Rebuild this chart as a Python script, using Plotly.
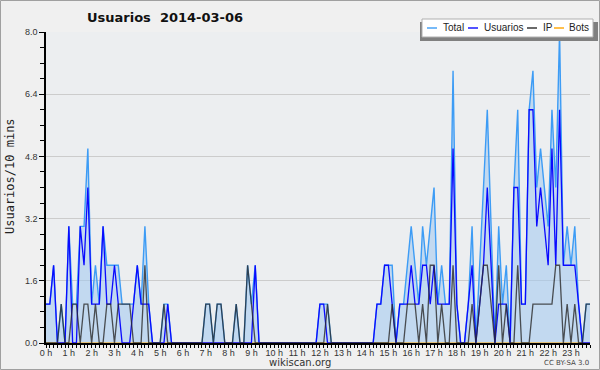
import plotly.graph_objects as go

# ---- data (10-minute slots, 144 per day) ----
hour_labels = [f"{h} h" for h in range(24)]

usuarios = [1,1,2,0,0,0,3,0,0,3,2,4,1,1,1,3,1,1,2,1,0,0,0,1,
            2,1,1,1,0,0,0,0,1,0,0,0,0,0,0,0,0,0,0,0,0,0,0,0,
            0,0,0,0,0,0,0,2,0,0,0,0,0,0,0,0,0,0,0,0,0,0,0,0,
            1,1,0,0,0,0,0,0,0,0,0,0,0,0,0,1,1,2,2,1,0,1,1,1,
            2,1,1,2,2,1,2,1,1,1,1,5,1,0,0,1,2,0,1,2,4,2,0,1,
            1,1,0,4,4,1,1,6,6,3,4,3,2,5,2,6,2,2,2,2,1,0,0,0]

ip = [0,0,0,0,1,0,0,1,1,0,1,1,0,1,0,0,1,1,0,1,1,1,1,0,
      0,0,2,0,0,0,0,1,0,0,0,0,0,0,0,0,0,0,1,1,0,1,1,0,
      0,0,1,0,0,2,1,0,0,0,0,0,0,0,0,0,0,0,0,0,0,0,0,0,
      0,0,1,0,0,0,0,0,0,0,0,0,0,0,0,0,0,0,0,1,0,0,0,1,
      1,1,0,1,0,2,2,0,1,0,0,2,0,0,0,0,1,0,1,2,2,1,0,2,
      0,1,0,0,2,0,0,0,1,1,1,1,1,1,2,2,0,1,0,1,0,0,1,1]

total = [1,1,2,0,1,0,3,1,1,3,3,5,1,2,1,3,2,2,2,2,1,1,1,1,
         2,1,3,1,0,0,0,1,1,0,0,0,0,0,0,0,0,0,1,1,0,1,1,0,
         0,0,1,0,0,2,1,2,0,0,0,0,0,0,0,0,0,0,0,0,0,0,0,0,
         1,1,1,0,0,0,0,0,0,0,0,0,0,0,0,1,1,2,2,2,0,1,1,2,
         3,2,1,3,2,3,4,1,2,1,1,7,1,0,0,1,3,0,2,4,6,3,0,3,
         1,2,0,4,6,1,1,6,7,4,5,4,3,6,4,8,2,3,2,3,1,0,1,1]

bots = [0] * 144

slots = list(range(144))
y_ticks = [0.0, 1.6, 3.2, 4.8, 6.4, 8.0]

# ---- style ----
C_TOTAL = "#3d9cf5"
C_USU = "#0a0aff"
C_IP = "#2a2a2a"
C_BOTS = "#ffa500"
FONT = "DejaVu Sans"
SMALL = "Liberation Sans"

L, R, T, B = 46, 10, 32, 27
W, H = 600, 370
PW, PH = W - L - R, H - T - B


def xp(px):
    return (px - L) / PW


def yp(py):
    return (H - B - py) / PH


fig = go.Figure()
fig.add_trace(go.Scatter(x=slots, y=total, mode="lines", name="Total",
                         line=dict(color=C_TOTAL, width=1.4),
                         fill="tozeroy", fillcolor="rgba(160,200,240,0.55)"))
fig.add_trace(go.Scatter(x=slots, y=bots, mode="lines", name="Bots",
                         line=dict(color=C_BOTS, width=1.2)))
fig.add_trace(go.Scatter(x=slots, y=usuarios, mode="lines", name="Usuarios",
                         line=dict(color=C_USU, width=1.3)))
fig.add_trace(go.Scatter(x=slots, y=ip, mode="lines", name="IP",
                         line=dict(color=C_IP, width=1.3), opacity=0.8))

shapes = [
    # outer frame
    dict(type="rect", xref="paper", yref="paper", x0=xp(0.5), x1=xp(599.5),
         y0=yp(369.5), y1=yp(0.5), line=dict(color="#a0a0a0", width=1),
         layer="below"),
    # legend shadow
    dict(type="rect", xref="paper", yref="paper", x0=xp(420), x1=xp(598),
         y0=yp(41), y1=yp(22), line=dict(width=0), fillcolor="#808080"),
    # legend box
    dict(type="rect", xref="paper", yref="paper", x0=xp(422), x1=xp(593),
         y0=yp(37), y1=yp(19), line=dict(color="#b0b0b0", width=1),
         fillcolor="#ffffff"),
]
annotations = []
legend_items = [("Total", C_TOTAL, 427, 441), ("Usuarios", C_USU, 468, 482),
                ("IP", C_IP, 527, 541), ("Bots", C_BOTS, 554, 567)]
for name, col, lx, tx in legend_items:
    shapes.append(dict(type="line", xref="paper", yref="paper",
                       x0=xp(lx), x1=xp(lx + 10), y0=yp(28), y1=yp(28),
                       line=dict(color=col, width=1.4)))
    annotations.append(dict(text=name, xref="paper", yref="paper",
                            x=xp(tx), y=yp(28), xanchor="left", yanchor="middle",
                            showarrow=False,
                            font=dict(family=SMALL, size=10, color="#222")))

annotations += [
    dict(text="<b>Usuarios&nbsp;&nbsp;2014-03-06</b>", xref="paper", yref="paper",
         x=xp(85), y=yp(17), xanchor="left", yanchor="middle", showarrow=False,
         font=dict(family=FONT, size=13, color="#111")),
    dict(text="Usuarios/10 mins", xref="paper", yref="paper", x=xp(10),
         y=yp(176), xanchor="center", yanchor="middle", textangle=-90,
         showarrow=False, font=dict(family="DejaVu Sans Mono", size=12, color="#222")),
    dict(text="wikiscan.org", xref="paper", yref="paper", x=xp(300), y=yp(362),
         xanchor="center", yanchor="middle", showarrow=False,
         font=dict(family=FONT, size=10, color="#333")),
    dict(text="CC BY-SA 3.0", xref="paper", yref="paper", x=xp(566), y=yp(363),
         xanchor="center", yanchor="middle", showarrow=False,
         font=dict(family=FONT, size=7, color="#444")),
]

fig.update_layout(
    width=W, height=H,
    margin=dict(l=L, r=R, t=T, b=B, autoexpand=False),
    paper_bgcolor="#f0f0f0",
    plot_bgcolor="#eceef0",
    showlegend=False,
    shapes=shapes,
    annotations=annotations,
    font=dict(family=FONT, size=9, color="#333"),
)
fig.update_xaxes(range=[0, 143], tickvals=list(range(0, 144, 6)),
                 ticktext=hour_labels, tickangle=0, automargin=False,
                 ticks="outside", ticklen=3, ticklabelstandoff=-3,
                 tickcolor="#000", showline=True, linecolor="#000",
                 linewidth=1.5, showgrid=False, zeroline=False,
                 tickfont=dict(family=SMALL, size=9, color="#333"),
                 minor=dict(dtick=1, tick0=0, ticks="outside", ticklen=3,
                            tickcolor="#000", showgrid=False))
fig.update_yaxes(range=[0, 8], tickvals=y_ticks, automargin=False,
                 ticktext=[f"{v:.1f}" for v in y_ticks], ticks="outside",
                 ticklen=5, tickcolor="#000", showline=True, linecolor="#000",
                 linewidth=1.5, showgrid=True, gridcolor="#cccccc",
                 gridwidth=1, zeroline=False,
                 tickfont=dict(family=SMALL, size=9, color="#333"),
                 minor=dict(dtick=0.4, tick0=0, ticks="outside", ticklen=4,
                            tickcolor="#000", showgrid=False))

fig.write_html(
    "out.html",
    config={"displayModeBar": False},
    post_script="document.body.style.margin='0';document.body.style.padding='0';"
                "document.body.style.overflow='hidden';",
)
